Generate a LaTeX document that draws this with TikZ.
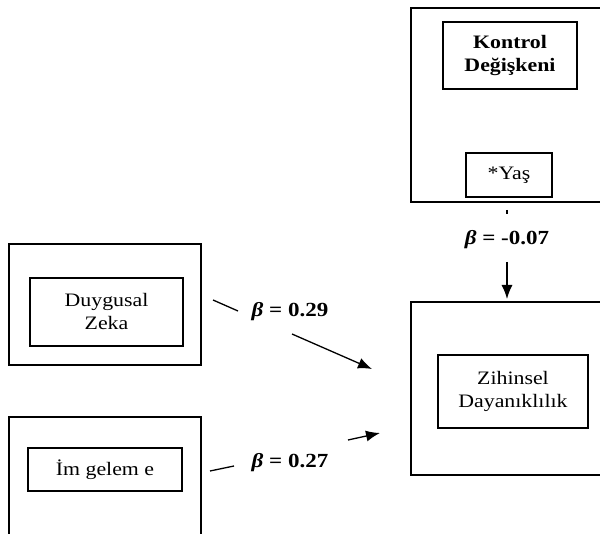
\documentclass[tikz,border=0pt]{standalone}
\usepackage{fontspec}
\setmainfont{Liberation Serif}[FakeStretch=1.15]
\usetikzlibrary{arrows.meta}
\begin{document}
\begin{tikzpicture}[x=1pt, y=-1pt,
    outer/.style={draw, line width=1.6pt, minimum width=#1},
    inner/.style={draw, line width=1.4pt, align=center, font=\fontsize{19}{23}\selectfont},
    beta/.style={font=\fontsize{20}{22}\selectfont\bfseries},
    conn/.style={line width=1.3pt},
    arr/.style={conn, -{Latex[length=14pt, width=11pt]}}]
  \clip (0,0) rectangle (600,534);
  % control variable
  \node[outer=230pt, minimum height=194pt] (ctrlbox) at (526,105) {};
  \node[inner, minimum width=134pt, minimum height=67pt] (kontrol) at (510,55.5) {\bfseries Kontrol\\\bfseries Değişkeni};
  \node[inner, minimum width=86pt, minimum height=44pt] (yas) at (509,175) {*Yaş};
  % outcome
  \node[outer=229pt, minimum height=173pt] (zihbox) at (525.5,388.5) {};
  \node[inner, minimum width=150pt, minimum height=73pt] (zihinsel) at (513,391.5) {Zihinsel\\Dayanıklılık};
  % predictors
  \node[outer=192pt, minimum height=121pt] (duybox) at (105,304.5) {};
  \node[inner, minimum width=153pt, minimum height=68pt] (duygusal) at (106.5,312) {Duygusal\\Zeka};
  \node[outer=192pt, minimum height=128pt] (imgbox) at (105,481) {};
  \node[inner, minimum width=154pt, minimum height=43pt] (imgeleme) at (105,469.5) {İm gelem e};
  % paths
  \node[beta] (b1) at (290,312) {\itshape β\upshape{} = 0.29};
  \node[beta] (b2) at (290,463) {\itshape β\upshape{} = 0.27};
  \node[beta] (b3) at (507,240) {\itshape β\upshape{} = -0.07};
  \coordinate (d1) at (213,300); \coordinate (d2) at (238,311);
  \coordinate (d3) at (292,334); \coordinate (d4) at (372,369);
  \coordinate (i1) at (210,471); \coordinate (i2) at (234,466);
  \coordinate (i3) at (348,440); \coordinate (i4) at (380,433);
  \coordinate (y1) at (507,210); \coordinate (y2) at (507,214);
  \coordinate (y3) at (507,262); \coordinate (y4) at (507,299);
  \draw[conn] (d1) -- (d2);
  \draw[arr] (d3) -- (d4);
  \draw[conn] (i1) -- (i2);
  \draw[arr] (i3) -- (i4);
  \draw[conn] (y1) -- (y2);
  \draw[arr] (y3) -- (y4);
\end{tikzpicture}
\end{document}
